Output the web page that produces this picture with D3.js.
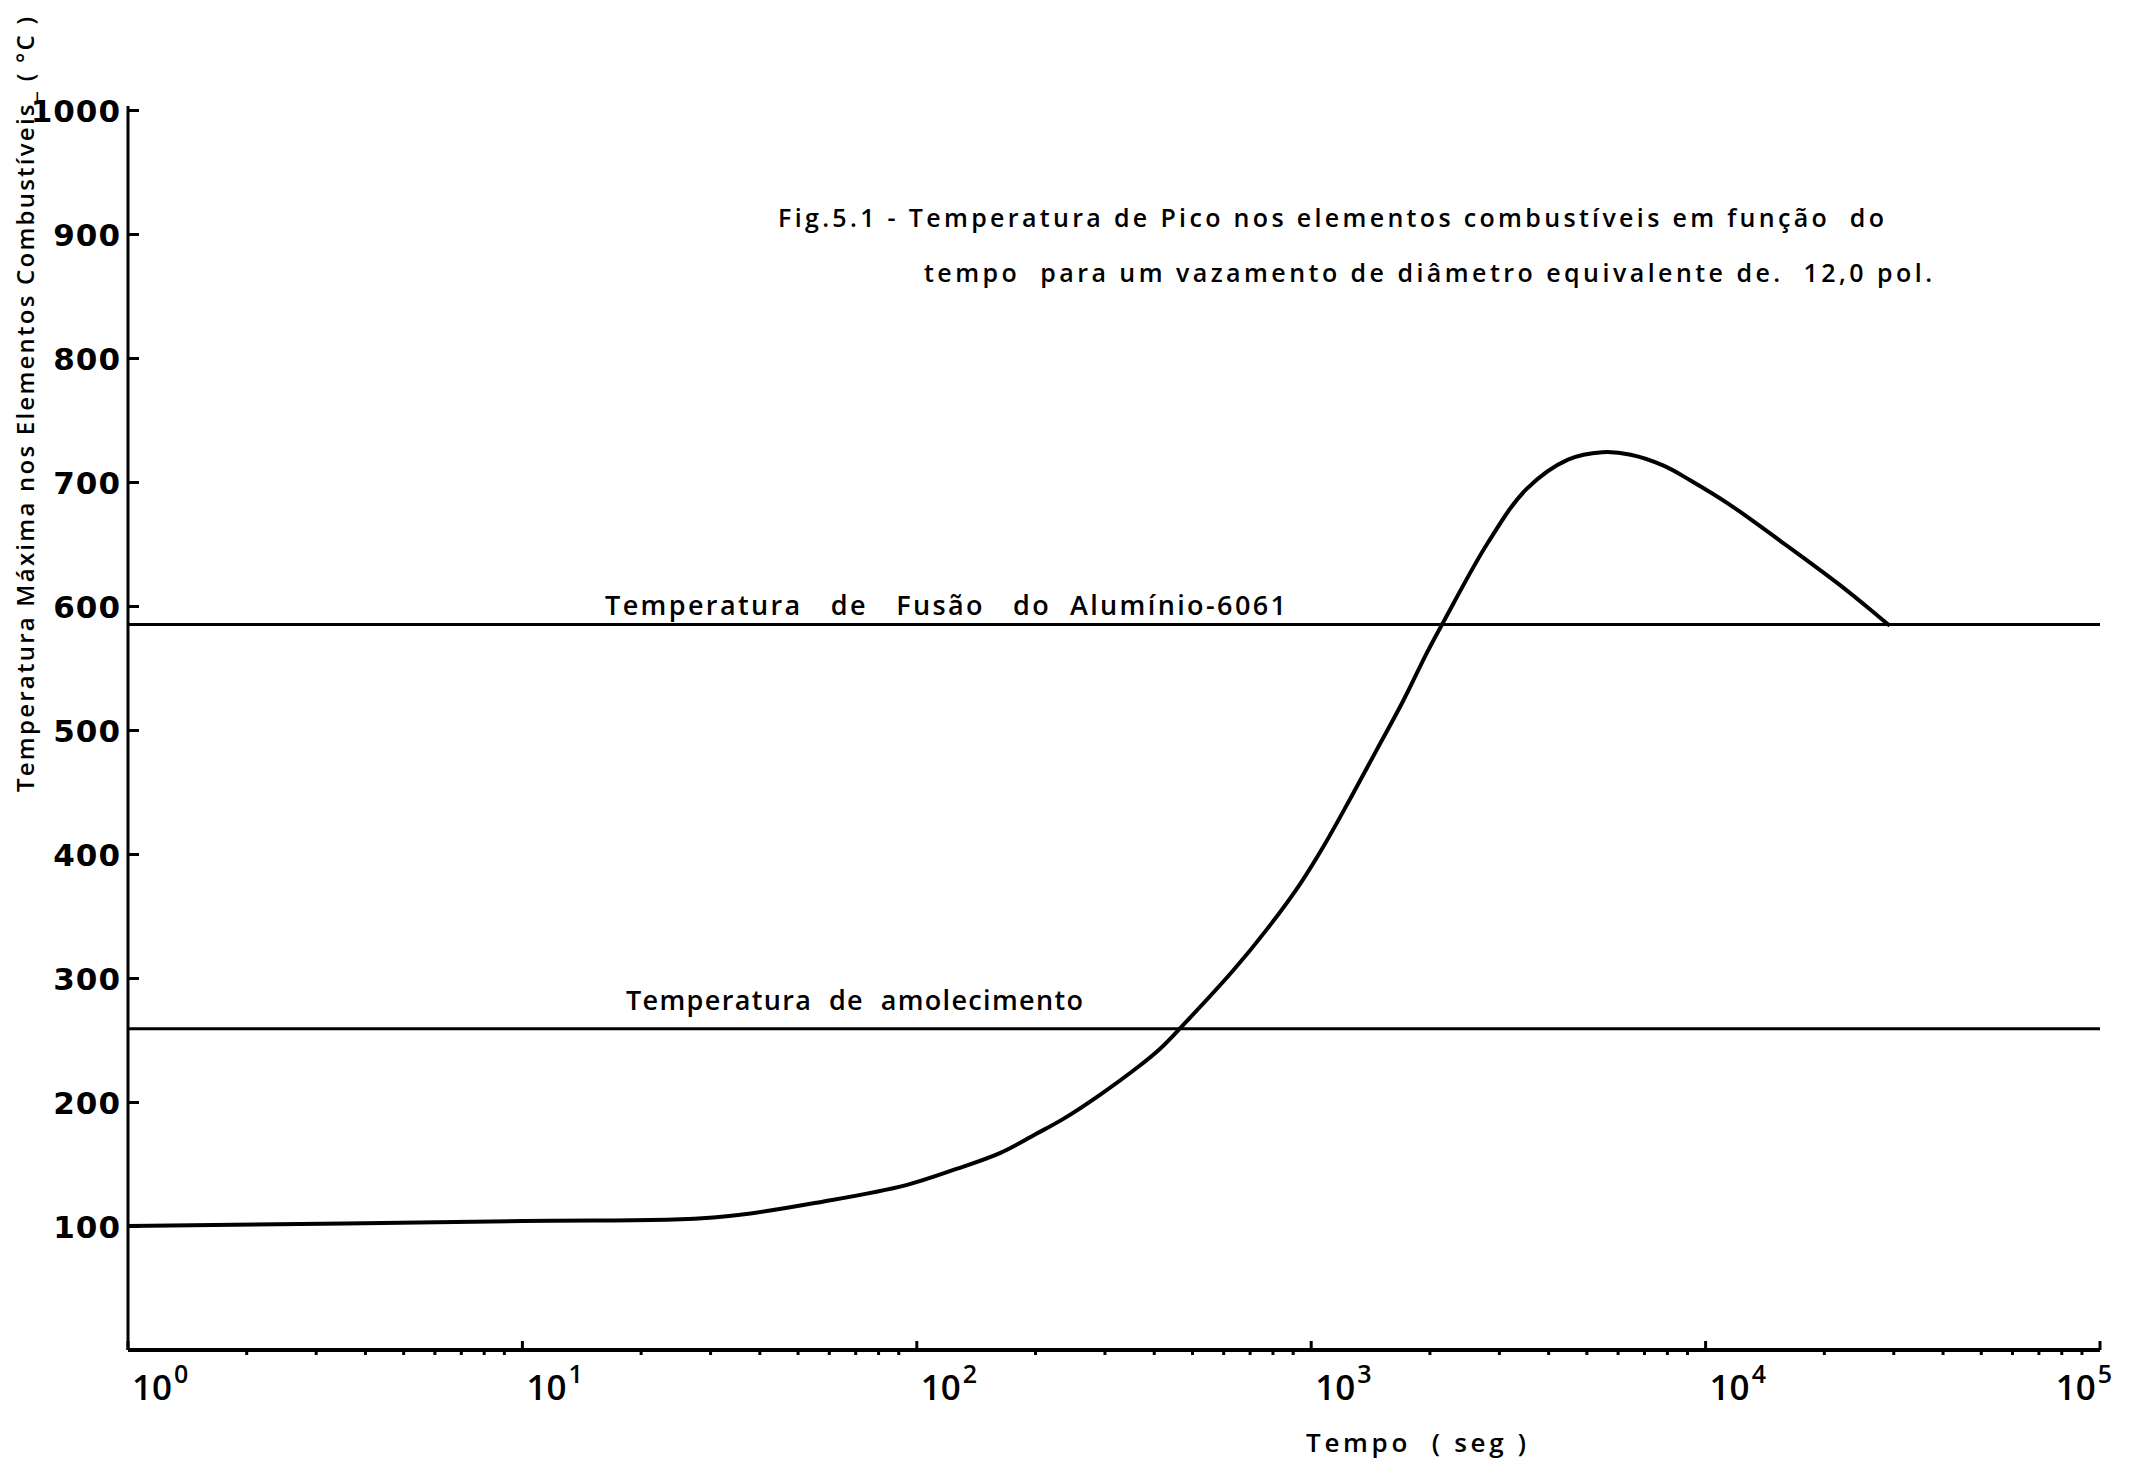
<!DOCTYPE html>
<html>
<head>
<meta charset="utf-8">
<script src="https://cdn.jsdelivr.net/npm/d3@7"></script>
<style>
  html, body { margin: 0; padding: 0; background: #fff; }
  svg { display: block; }
  text { fill: #000; }
</style>
</head>
<body>
<svg id="chart" width="2156" height="1463"></svg>
<script>
// tempo (s) and peak temperature (°C)
var tempo = [1, 10, 31, 61, 94, 126, 163, 200, 237, 292, 363, 414, 470, 634, 771, 938,
    1074, 1253, 1466, 1714, 1963, 2163, 2805, 3508, 4477, 5470, 6457, 7852, 9183,
    11480, 15700, 21880, 27350, 29310];
var temperatura = [100, 104, 107, 121, 133, 146, 159, 174, 187, 206, 228, 243, 261, 306,
    339, 376, 406, 444, 484, 524, 562, 587, 651, 694, 718, 724, 722, 713, 701, 682,
    651, 617, 592, 584];

var fusaoTemp = 585;
var amolecimentoTemp = 259;

var yTicks = [100, 200, 300, 400, 500, 600, 700, 800, 900, 1000];
var xDecades = [1, 10, 100, 1000, 10000, 100000];
var xExpoentes = ['0', '1', '2', '3', '4', '5'];

var titulo1 = 'Fig.5.1 - Temperatura de Pico nos elementos combustíveis em função  do';
var titulo2 = 'tempo  para um vazamento de diâmetro equivalente de.  12,0 pol.';

(function () {
    'use strict';

    var svg = d3.select('#chart');

    var x = d3.scaleLog().domain([1, 1e5]).range([128, 2100]);
    var y = d3.scaleLinear().domain([0, 1000]).range([1350, 110]);

    var textFont = '"Open Sans", sans-serif';
    var numFont = '"DejaVu Sans", sans-serif';

    function label(px, py, len, size, str) {
        return svg.append('text')
            .attr('x', px)
            .attr('y', py)
            .attr('textLength', len)
            .attr('lengthAdjust', 'spacing')
            .style('font-family', textFont)
            .style('font-weight', 600)
            .style('font-size', size + 'px')
            .style('white-space', 'pre')
            .text(str);
    }

    // y axis
    var yAxis = d3.axisLeft(y)
        .tickValues(yTicks)
        .tickSizeInner(-11)
        .tickSizeOuter(0)
        .tickPadding(7)
        .tickFormat(d3.format('d'));

    var gy = svg.append('g')
        .attr('transform', 'translate(' + x(1) + ',0)')
        .call(yAxis);
    gy.select('.domain')
        .attr('d', 'M0,' + (y(1000) - 4) + 'V' + y(0))
        .style('stroke', '#000')
        .style('stroke-width', 3);
    gy.selectAll('.tick line')
        .style('stroke', '#000')
        .style('stroke-width', 3);
    gy.selectAll('.tick text')
        .attr('dy', '0.36em')
        .style('font-family', numFont)
        .style('font-weight', 'bold')
        .style('font-size', '31px')
        .style('letter-spacing', '1px');

    // x axis
    svg.append('line')
        .attr('x1', x(1)).attr('x2', x(1e5))
        .attr('y1', y(0)).attr('y2', y(0))
        .style('stroke', '#000')
        .style('stroke-width', 4);

    var minor = [];
    xDecades.slice(0, -1).forEach(function (d) {
        for (var k = 2; k < 10; k += 1) { minor.push(d * k); }
    });

    svg.append('g').selectAll('line.minor')
        .data(minor)
        .enter().append('line')
        .attr('x1', function (d) { return x(d); })
        .attr('x2', function (d) { return x(d); })
        .attr('y1', y(0))
        .attr('y2', y(0) + 5)
        .style('stroke', '#000')
        .style('stroke-width', 3);

    svg.append('g').selectAll('line.major')
        .data(xDecades)
        .enter().append('line')
        .attr('x1', function (d) { return x(d); })
        .attr('x2', function (d) { return x(d); })
        .attr('y1', y(0))
        .attr('y2', y(0) - 9)
        .style('stroke', '#000')
        .style('stroke-width', 3);

    var xl = svg.append('g').selectAll('text')
        .data(xDecades)
        .enter().append('text')
        .attr('x', function (d, i) { return i === xDecades.length - 1 ? x(d) + 12 : x(d) + 4; })
        .attr('y', 1400)
        .attr('text-anchor', function (d, i) { return i === xDecades.length - 1 ? 'end' : 'start'; })
        .style('font-family', textFont)
        .style('font-weight', 600)
        .style('font-size', '35px');
    xl.append('tspan').text('10');
    xl.append('tspan')
        .attr('dy', -17)
        .attr('dx', 2)
        .style('font-size', '25px')
        .text(function (d, i) { return xExpoentes[i]; });

    label(1306, 1452, 220, 26, 'Tempo  ( seg )');

    // y label
    svg.append('text')
        .attr('transform', 'translate(34,792) rotate(-90)')
        .attr('textLength', 775)
        .attr('lengthAdjust', 'spacing')
        .style('font-family', textFont)
        .style('font-weight', 600)
        .style('font-size', '24px')
        .style('white-space', 'pre')
        .text('Temperatura Máxima nos Elementos Combustíveis_ ( °C )');

    // reference lines
    [fusaoTemp, amolecimentoTemp].forEach(function (t) {
        svg.append('line')
            .attr('x1', x(1)).attr('x2', x(1e5))
            .attr('y1', y(t)).attr('y2', y(t))
            .style('stroke', '#000')
            .style('stroke-width', 3);
    });

    label(605, y(fusaoTemp) - 10, 681, 27, 'Temperatura   de   Fusão   do  Alumínio-6061');
    label(626, y(amolecimentoTemp) - 19, 457, 27, 'Temperatura  de  amolecimento');

    // title
    label(778, 227, 1106, 25, titulo1);
    label(924, 282, 1008, 25, titulo2);

    // curve
    var line = d3.line()
        .x(function (d) { return x(d[0]); })
        .y(function (d) { return y(d[1]); })
        .curve(d3.curveCatmullRom.alpha(0.5));

    svg.append('path')
        .datum(d3.zip(tempo, temperatura))
        .attr('d', line)
        .style('fill', 'none')
        .style('stroke', '#000')
        .style('stroke-width', 4)
        .style('stroke-linejoin', 'round');
}());
</script>
</body>
</html>
